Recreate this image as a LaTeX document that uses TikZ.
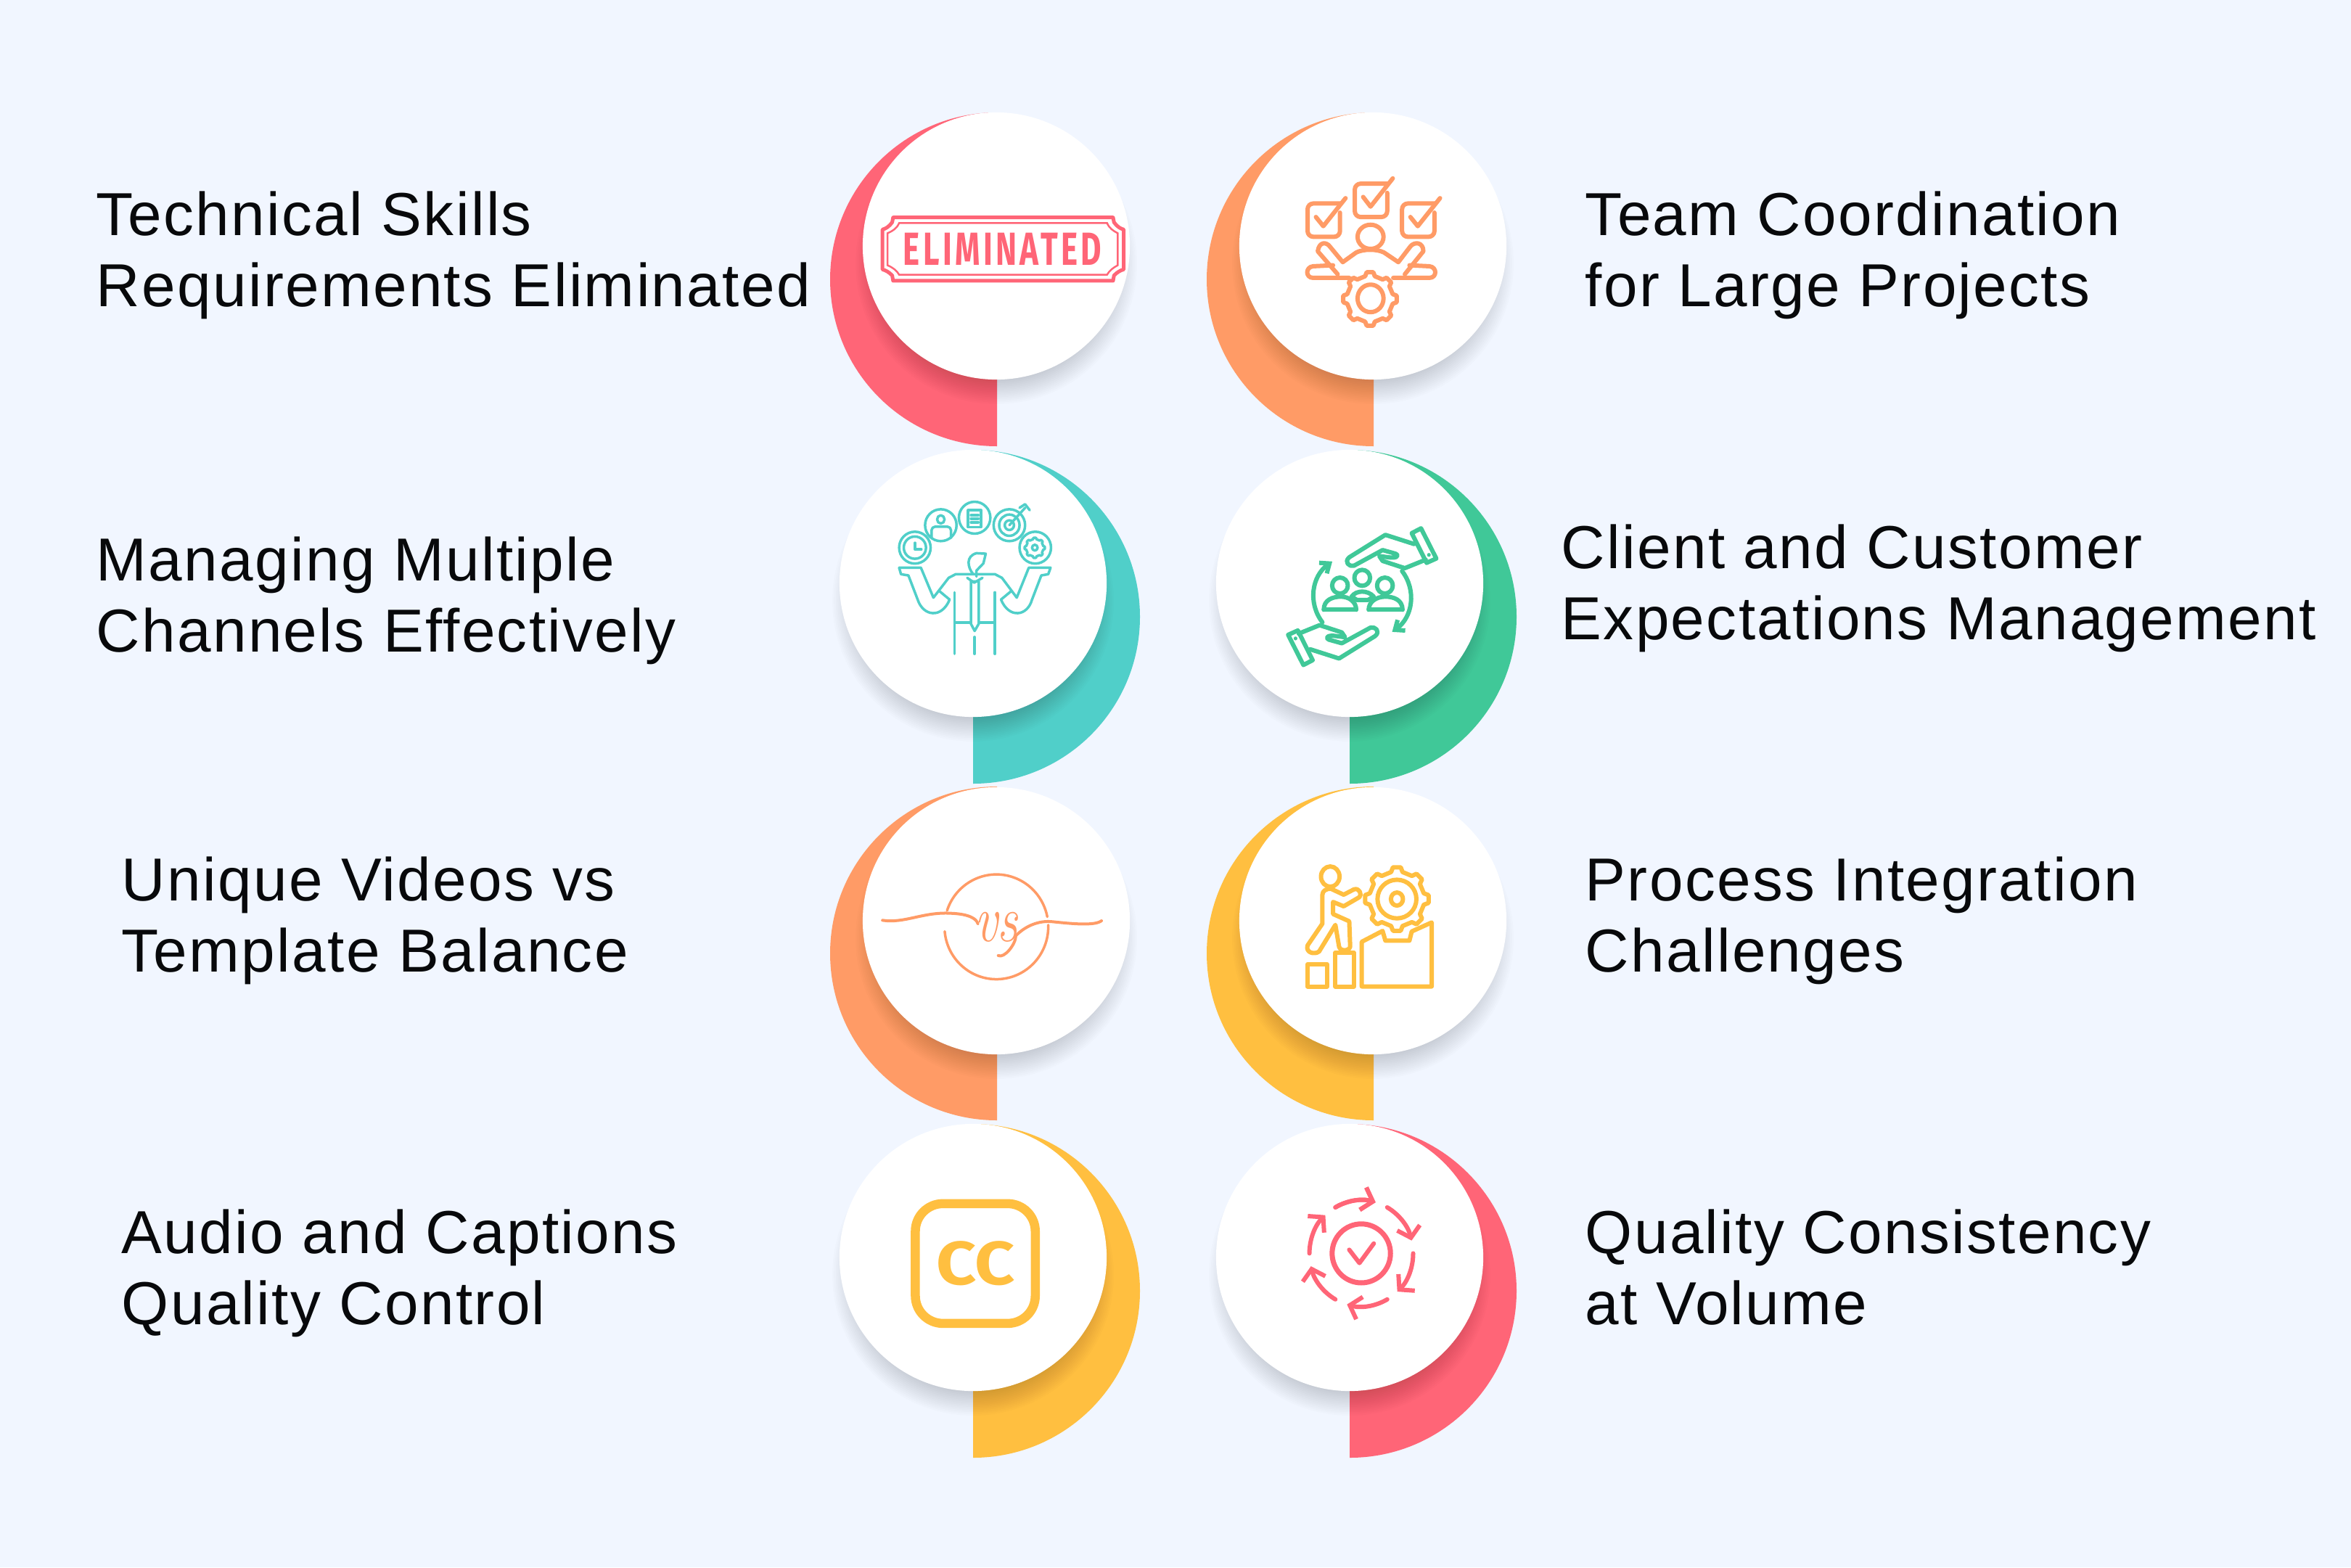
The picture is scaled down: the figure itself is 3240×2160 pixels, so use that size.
\documentclass[tikz,border=0pt]{standalone}
\usepackage{xcolor}
\usepackage{fontspec}
\usetikzlibrary{arrows.meta}

\newfontfamily\labelfont[LetterSpace=2.8]{Liberation Sans}
\newfontfamily\stampfont{Fira Sans}
\newfontfamily\stampwidefont[LetterSpace=10]{Fira Sans}

\definecolor{pagebg}{HTML}{F1F6FF}
\definecolor{inkblack}{HTML}{08090B}
\definecolor{redmark}{HTML}{FF6577}
\definecolor{orangemark}{HTML}{FF9B66}
\definecolor{tealmark}{HTML}{50CFC9}
\definecolor{greenmark}{HTML}{40C898}
\definecolor{yellowmark}{HTML}{FFBF40}

\tikzset{
  itemlabel/.style={anchor=base west, align=left, inner sep=0pt, text=inkblack,
    font=\labelfont\fontsize{23.8}{27.6}\selectfont},
  badge/.style={circle, fill=white, inner sep=0pt, minimum size=3.68cm},
  iconline/.style={line width=.06cm, line join=round, line cap=round},
  thinline/.style={line width=.035cm, line join=round, line cap=round},
  zoomframe/.style 2 args={shift={(#1,#2)}, x=0.0063776cm, y=-0.003333cm}
}

\newcommand{\softshadow}[2]{
  \foreach \k in {0,...,13}
    \fill[black, opacity=.011] (#1,#2+24) circle[radius=194-2.4*\k];
}
\newcommand{\halfleft}[3]{
  \fill[#3] (#1,#2-230) arc[start angle=-90, end angle=-270, radius=230] -- cycle;
}
\newcommand{\halfright}[3]{
  \fill[#3] (#1,#2-230) arc[start angle=-90, end angle=90, radius=230] -- cycle;
}
\newcommand{\gearwheel}[4]{
  \draw[#4] ({#1+#3*cos(-12)},{#2+#3*sin(-12)}) \foreach \a in {0,45,...,315} {
      -- ({#1+#3*cos(\a-12)},{#2+#3*sin(\a-12)})
      -- ({#1+#3*cos(\a-7)*1.16},{#2+#3*sin(\a-7)*1.16})
      -- ({#1+#3*cos(\a+7)*1.16},{#2+#3*sin(\a+7)*1.16})
      -- ({#1+#3*cos(\a+12)},{#2+#3*sin(\a+12)})
    } -- cycle;
}
\newcommand{\helpinghand}{
  \draw[greenmark, iconline] (1325,405)--(1345,385)--(1378,510)--(1357,528)--cycle;
  \fill[greenmark] (1362,495) circle[x radius=4, y radius=8];
  \draw[greenmark, iconline] (1330,450)--(1268,412)--(1190,505)
    .. controls (1178,525) and (1190,545) .. (1200,540)--(1262,475)--(1290,490)
    .. controls (1300,500) and (1290,510) .. (1275,505)--(1255,500)--(1262,520)--(1310,550)--(1355,515);
  \draw[greenmark, iconline, -{Straight Barb[length=.11cm, width=.18cm]}] (1218,668) ++(145:105 and 185)
    arc[start angle=145, end angle=232, x radius=105, y radius=185];
}

\begin{document}
\begin{tikzpicture}[x=0.01cm, y=-0.01cm]

\useasboundingbox (0,0) rectangle (3240,2160);
\fill[pagebg] (0,0) rectangle (3240,2160);

\halfleft{1374}{385}{redmark}
\halfleft{1893}{385}{orangemark}
\halfright{1341}{850}{tealmark}
\halfright{1860}{850}{greenmark}
\halfleft{1374}{1314}{orangemark}
\halfleft{1893}{1314}{yellowmark}
\halfright{1341}{1779}{yellowmark}
\halfright{1860}{1779}{redmark}

\softshadow{1373}{339}
\softshadow{1892}{339}
\softshadow{1341}{804}
\softshadow{1860}{804}
\softshadow{1373}{1269}
\softshadow{1892}{1269}
\softshadow{1341}{1733}
\softshadow{1860}{1733}

\node[badge] (badgestamp) at (1373,339) {};
\node[badge] (badgeteam) at (1892,339) {};
\node[badge] (badgejuggler) at (1341,804) {};
\node[badge] (badgeclient) at (1860,804) {};
\node[badge] (badgevideo) at (1373,1269) {};
\node[badge] (badgeprocess) at (1892,1269) {};
\node[badge] (badgecaption) at (1341,1733) {};
\node[badge] (badgequality) at (1860,1733) {};

\node[itemlabel] (skills) at (132,422) {Technical Skills\\Requirements Eliminated};
\node[itemlabel] (teamwork) at (2184,422) {Team Coordination\\for Large Projects};
\node[itemlabel] (channels) at (132,898) {Managing Multiple\\Channels Effectively};
\node[itemlabel] (clients) at (2151,881) {Client and Customer\\Expectations Management};
\node[itemlabel] (videos) at (167,1339) {Unique Videos vs\\Template Balance};
\node[itemlabel] (process) at (2184,1339) {Process Integration\\Challenges};
\node[itemlabel] (audio) at (167,1825) {Audio and Captions\\Quality Control};
\node[itemlabel] (volume) at (2184,1825) {Quality Consistency\\at Volume};

% stamp and team
\begin{scope}[zoomframe={1100}{130}]
\draw[redmark, line width=.05cm, line join=round] (205,510)--(680,510)--(682,530)
  .. controls (690,550) and (695,555) .. (703,560)--(703,725)
  .. controls (695,730) and (690,735) .. (682,750)--(680,772)--(205,772)--(203,750)
  .. controls (195,735) and (190,730) .. (182,725)--(182,560)
  .. controls (190,555) and (195,550) .. (203,530)--cycle;
\draw[redmark, line width=.025cm] (218,533)--(667,533)
  .. controls (672,555) and (680,565) .. (690,575)--(690,708)
  .. controls (680,718) and (672,730) .. (667,747)--(218,747)
  .. controls (213,730) and (205,718) .. (193,708)--(193,575)
  .. controls (205,565) and (213,555) .. (218,533)--cycle;
\node[inner sep=0pt, text=redmark, xscale=.685, font=\stampwidefont\bfseries\fontsize{18.2}{18.2}\selectfont] (stamptext) at (441,641) {ELIMINATED};

\draw[orangemark, iconline, rounded corners=.08cm] (1172,452)--(1100,452)--(1100,590)--(1170,590)--(1170,490);
\draw[orangemark, iconline, rounded corners=.08cm] (1274,370)--(1202,370)--(1202,508)--(1272,508)--(1272,408);
\draw[orangemark, iconline, rounded corners=.08cm] (1376,452)--(1304,452)--(1304,590)--(1374,590)--(1374,490);
\draw[orangemark, iconline] (1118,508)--(1134,546)--(1182,430);
\draw[orangemark, iconline] (1220,425)--(1236,465)--(1284,348);
\draw[orangemark, iconline] (1322,508)--(1338,546)--(1386,430);
\draw[orangemark, iconline] (1236,590) circle[x radius=28, y radius=50];
\draw[orangemark, iconline] (1165,745)--(1122,650) .. controls (1125,610) and (1140,610) .. (1148,630)
  --(1176,695)--(1205,655) .. controls (1220,640) and (1250,640) .. (1265,655)
  --(1296,695)--(1322,630) .. controls (1330,610) and (1350,610) .. (1350,650)--(1310,745);
\draw[orangemark, iconline] (1155,708)--(1112,712) .. controls (1095,715) and (1095,760) .. (1112,760)--(1190,760);
\draw[orangemark, iconline] (1320,708)--(1363,712) .. controls (1380,715) and (1380,760) .. (1363,760)--(1285,760);
\draw[orangemark, iconline] (1236,845) circle[x radius=28, y radius=57];
\end{scope}
\gearwheel{1888}{412}{32}{orangemark, iconline}

% juggler and client
\begin{scope}[zoomframe={1100}{600}]
\foreach \gx/\gy in {252/465, 308/372, 381/341, 456/372, 512/465}
  \draw[tealmark, thinline] (\gx,\gy) circle[x radius=34, y radius=66];
\draw[tealmark, thinline] (252,465) circle[x radius=24, y radius=46];
\draw[tealmark, thinline] (252,445)--(252,472)--(266,472);
\draw[tealmark, thinline] (308,348) circle[x radius=8, y radius=17];
\draw[tealmark, thinline, rounded corners=.05cm] (288,425)--(288,378)--(330,378)--(330,425);
\draw[tealmark, thinline] (367,310) rectangle (395,380);
\draw[tealmark, thinline] (373,330)--(389,330) (373,345)--(389,345) (373,360)--(389,360);
\draw[tealmark, thinline] (456,372) circle[x radius=22, y radius=44];
\draw[tealmark, thinline] (456,372) circle[x radius=10, y radius=20];
\draw[tealmark, thinline] (456,372)--(490,300) (478,300)--(490,285)--(500,310);
\draw[tealmark, thinline] (511,465) circle[x radius=6, y radius=12];
\draw[tealmark, thinline] (218,548)--(265,548)--(292,672)--(325,590)--(340,575)--(425,575)--(440,590)
  --(472,672)--(498,548)--(545,548)--(540,575)--(525,580)--(505,680)
  .. controls (495,750) and (455,760) .. (438,680);
\draw[tealmark, thinline] (218,548)--(222,575)--(238,580)--(258,680)
  .. controls (270,750) and (310,760) .. (327,680);
\draw[tealmark, thinline] (305,645)--(327,680) (460,645)--(438,680);
\draw[tealmark, thinline] (338,650)--(338,905) (425,650)--(425,905) (381,835)--(381,905);
\draw[tealmark, thinline] (338,775)--(372,775) (390,775)--(425,775);
\draw[tealmark, thinline] (373,605)--(390,605)--(390,780)--(381,810)--(373,780)--cycle;
\draw[tealmark, thinline] (378,575) .. controls (365,545) and (362,500) .. (385,488)--(405,490)--(400,530)
  --(385,560)--(385,585);
\draw[tealmark, thinline] (365,590)--(380,610)--(398,590);

\helpinghand
\begin{scope}[shift={(2436,1336)}, xscale=-1, yscale=-1]
\helpinghand
\end{scope}
\foreach \hx/\hy in {1170/622, 1267/622, 1218/590}
  \draw[greenmark, iconline] (\hx,\hy) circle[x radius=17, y radius=33];
\draw[greenmark, iconline] (1135,722)--(1205,722) (1232,722)--(1305,722);
\draw[greenmark, iconline] (1135,722) .. controls (1135,680) and (1155,668) .. (1172,668) .. controls (1190,668) and (1205,690) .. (1205,722);
\draw[greenmark, iconline] (1232,722) .. controls (1232,690) and (1248,668) .. (1268,668) .. controls (1285,668) and (1305,680) .. (1305,722);
\draw[greenmark, iconline] (1195,668) .. controls (1205,640) and (1230,640) .. (1243,668)--(1230,682)--(1207,682)--cycle;
\end{scope}
\gearwheel{1426}{755}{12}{tealmark, thinline}

% vs and process
\begin{scope}[zoomframe={1100}{1060}]
\draw[orangemark, thinline] (428,653) ++(198:112 and 217) arc[start angle=198, end angle=349, x radius=112, y radius=217];
\draw[orangemark, thinline] (428,653) ++(-2:112 and 217) arc[start angle=-2, end angle=175, x radius=112, y radius=217];
\draw[orangemark, thinline, line width=.04cm] (182,626) .. controls (230,640) and (270,590) .. (330,597) .. controls (370,600) and (385,620) .. (388,640);
\draw[orangemark, thinline, line width=.04cm] (432,772) .. controls (445,785) and (470,725) .. (470,690) .. controls (490,650) and (520,625) .. (550,632) .. controls (590,640) and (640,650) .. (655,628);
\node[inner sep=0pt, text=orangemark, yscale=1.3, font=\itshape\fontsize{20}{20}\selectfont] (vstext) at (428,655) {vs};

\draw[yellowmark, iconline] (1149,445) circle[x radius=20, y radius=42];
\draw[yellowmark, iconline] (1150,495)--(1178,520)--(1200,498) .. controls (1212,490) and (1218,520) .. (1212,530)
  --(1178,568)--(1155,550)--(1155,600)--(1190,630)--(1192,735) .. controls (1190,755) and (1170,755) .. (1168,735)
  --(1160,645)--(1125,755) .. controls (1115,770) and (1095,760) .. (1100,730)--(1132,640)--(1132,520) .. controls (1132,505) and (1140,495) .. (1150,495);
\draw[yellowmark, iconline] (1100,808) rectangle (1142,900);
\draw[yellowmark, iconline] (1160,760) rectangle (1200,900);
\draw[yellowmark, iconline] (1217,715)--(1262,670)--(1268,710)--(1320,710)--(1325,672)--(1368,635)--(1368,900)--(1217,900)--cycle;
\draw[yellowmark, iconline] (1293,538) circle[x radius=42, y radius=80];
\draw[yellowmark, iconline] (1293,538) circle[x radius=13, y radius=27];
\end{scope}
\gearwheel{1925}{1239}{38}{yellowmark, iconline}

% captions and quality
\begin{scope}[zoomframe={1100}{1540}]
\draw[yellowmark, line width=.125cm, rounded corners=.38cm] (253,357) rectangle (512,853);
\node[inner sep=0pt, text=yellowmark, xscale=1.14, font=\stampfont\bfseries\fontsize{24}{24}\selectfont] (cctext) at (383,605) {CC};

\draw[redmark, line width=.07cm] (1216,563) circle[x radius=63, y radius=122];
\draw[redmark, iconline] (1190,548)--(1212,603)--(1243,522);
\foreach \a in {-120,-60,...,240}
  \draw[redmark, iconline, -{Straight Barb[length=.14cm, width=.32cm]}] (1216,563) ++(\a:112 and 220)
    arc[start angle=\a, delta angle=46, x radius=112, y radius=220];
\end{scope}

\end{tikzpicture}
\end{document}
